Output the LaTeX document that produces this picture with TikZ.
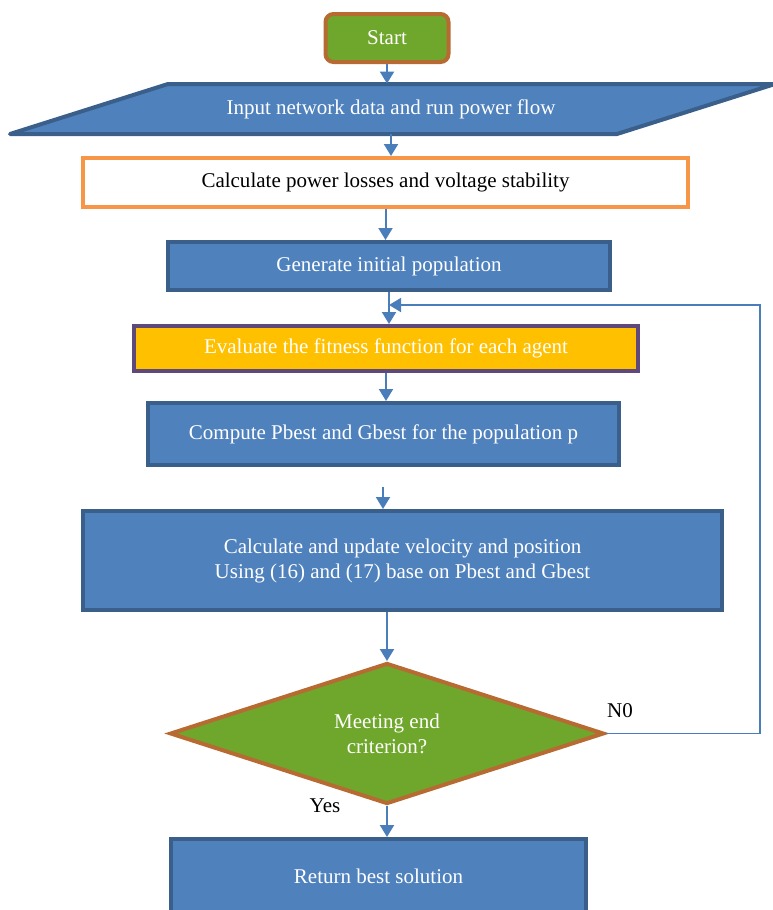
\documentclass[tikz,border=0pt]{standalone}
\usepackage{fontspec}
\setmainfont{Liberation Serif}
\usetikzlibrary{shapes.geometric,arrows.meta}
\definecolor{boxblue}{HTML}{4F81BD}
\definecolor{edgeblue}{HTML}{3A5F8B}
\definecolor{arrblue}{HTML}{4A7EBB}
\definecolor{startgreen}{HTML}{6FA72C}
\definecolor{startbrown}{HTML}{B76A31}
\definecolor{calcorange}{HTML}{F79646}
\definecolor{evalyellow}{HTML}{FFC000}
\definecolor{evalpurple}{HTML}{5F497A}

\begin{document}
\begin{tikzpicture}[x=0.5pt,y=-0.5pt,font=\fontsize{10.5}{12.5}\selectfont,
  box/.style={draw=edgeblue,fill=boxblue,line width=2pt,text=white,align=center,inner sep=0pt},
  arr/.style={draw=arrblue,line width=1pt,-{Triangle[width=7pt,length=6pt]}}]
\useasboundingbox (0,0) rectangle (772,910);

\node[box,draw=startbrown,fill=startgreen,rounded corners=4pt,minimum width=61.5pt,minimum height=24pt] (start) at (387,38) {Start};
\draw[draw=edgeblue,fill=boxblue,line width=2pt,line join=round] (168,84) -- (775,84) -- (617,134) -- (10,134) -- cycle;
\node[text=white,inner sep=0pt,minimum width=200pt,minimum height=25pt] (input) at (391,109) {Input network data and run power flow};
\node[box,draw=calcorange,fill=white,text=black,minimum width=302.5pt,minimum height=24.5pt] (calc) at (385.5,182.5) {Calculate power losses and voltage stability};
\node[box,minimum width=221pt,minimum height=24pt] (gen) at (389,266) {Generate initial population};
\node[box,draw=evalpurple,fill=evalyellow,minimum width=252pt,minimum height=22.5pt] (eval) at (386,348.5) {Evaluate the fitness function for each agent};
\node[box,minimum width=235.5pt,minimum height=31pt] (comp) at (383.5,434) {Compute Pbest and Gbest for the population p};
\node[box,minimum width=319.5pt,minimum height=49.5pt] (update) at (402.5,560.5) {Calculate and update velocity and position\\Using (16) and (17) base on Pbest and Gbest};
\node[box,diamond,aspect=3,draw=startbrown,fill=startgreen,minimum width=217pt,minimum height=70.5pt] (dec) at (387,733.5) {Meeting end\\criterion?};
\node[box,minimum width=207.5pt,minimum height=37pt] (ret) at (378.5,876) {Return best solution};
\node (no) at (620,711) {N0};
\node (yes) at (325,806) {Yes};

\foreach \a/\b in {start/input, input/calc, calc/gen, gen/eval, eval/comp, dec/ret}
	{\draw[arr] (\a.south) -- (\a.south |- \b.north);};
\draw[arr] (dec.north |- update.south) -- (dec.north);
\coordinate (gap) at (383,487);
\draw[arr] (gap) -- (gap |- update.north);
\coordinate (back) at (760,305);
\coordinate (join) at (389,305);
\draw[arr,line width=0.8pt] (dec.east) -| (back) -- (join);
\end{tikzpicture}
\end{document}
